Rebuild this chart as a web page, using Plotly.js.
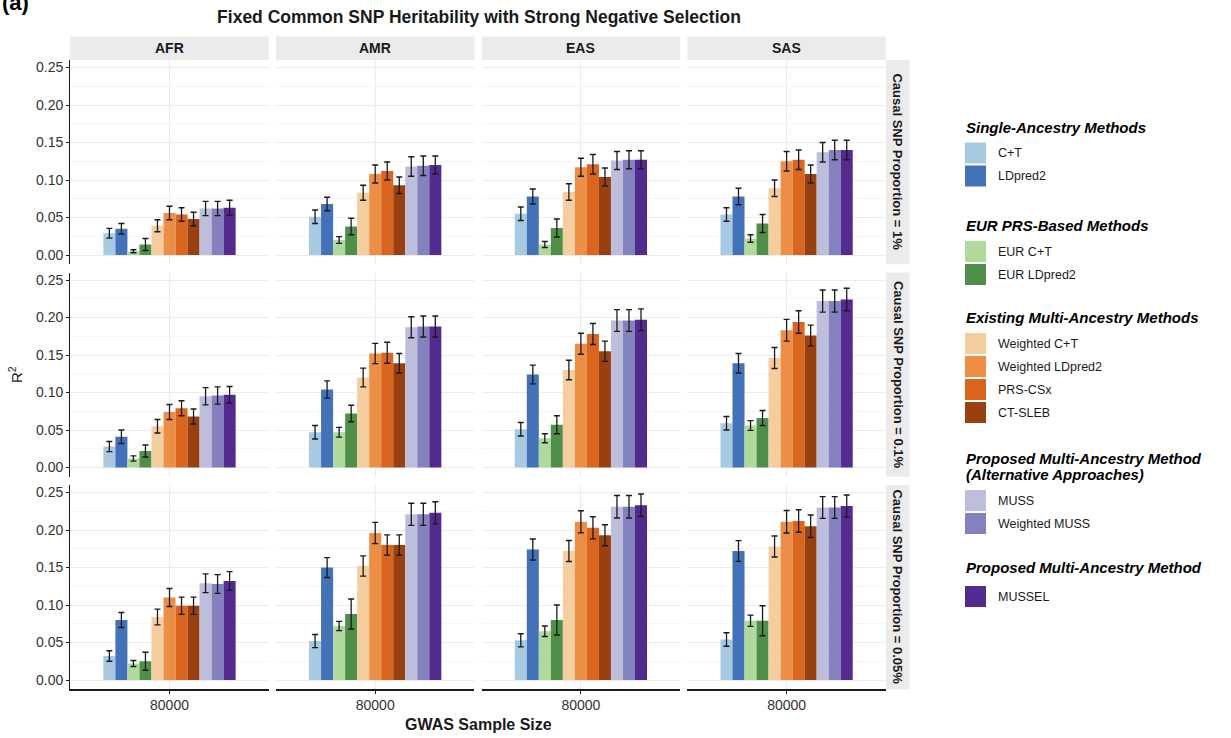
<!DOCTYPE html>
<html>
<head>
<meta charset="utf-8">
<script src="https://cdn.plot.ly/plotly-3.0.1.min.js"></script>
<style>html,body{margin:0;padding:0;background:#fff;}#chart{width:1231px;height:738px;}</style>
</head>
<body>
<div id="chart"></div>
<script>
// ---------------- DATA ----------------
const categories = ["80000"];
const ancestries = ["AFR", "AMR", "EAS", "SAS"];
const proportions = ["Causal SNP Proportion = 1%", "Causal SNP Proportion = 0.1%", "Causal SNP Proportion = 0.05%"];
const methods = ["C+T", "LDpred2", "EUR C+T", "EUR LDpred2", "Weighted C+T", "Weighted LDpred2",
                 "PRS-CSx", "CT-SLEB", "MUSS", "Weighted MUSS", "MUSSEL"];
const methodColors = ["#a8c9e2", "#4372b8", "#b0da9c", "#4f8f49", "#f5cea0", "#ec8e45",
                      "#d9651f", "#98400f", "#bdbddc", "#8381be", "#532a8e"];

// Causal SNP proportion = 1%
const r2_p1_AFR = [0.029, 0.035, 0.005, 0.014, 0.039, 0.056, 0.054, 0.048, 0.062, 0.062, 0.063];
const se_p1_AFR = [0.0065, 0.007, 0.002, 0.008, 0.008, 0.009, 0.009, 0.009, 0.0095, 0.0095, 0.0100];
const r2_p1_AMR = [0.051, 0.068, 0.020, 0.038, 0.083, 0.108, 0.112, 0.093, 0.118, 0.119, 0.120];
const se_p1_AMR = [0.009, 0.009, 0.0045, 0.011, 0.010, 0.012, 0.012, 0.011, 0.013, 0.013, 0.012];
const r2_p1_EAS = [0.055, 0.078, 0.014, 0.036, 0.084, 0.117, 0.121, 0.104, 0.126, 0.127, 0.127];
const se_p1_EAS = [0.009, 0.010, 0.004, 0.012, 0.011, 0.012, 0.013, 0.012, 0.012, 0.012, 0.012];
const r2_p1_SAS = [0.054, 0.078, 0.022, 0.042, 0.089, 0.125, 0.127, 0.108, 0.137, 0.140, 0.140];
const se_p1_SAS = [0.009, 0.011, 0.005, 0.012, 0.011, 0.013, 0.013, 0.012, 0.013, 0.013, 0.013];

// Causal SNP proportion = 0.1%
const r2_p01_AFR = [0.028, 0.041, 0.012, 0.022, 0.055, 0.074, 0.079, 0.068, 0.095, 0.096, 0.097];
const se_p01_AFR = [0.0067, 0.009, 0.0035, 0.008, 0.009, 0.010, 0.010, 0.010, 0.0115, 0.0115, 0.011];
const r2_p01_AMR = [0.047, 0.104, 0.047, 0.072, 0.120, 0.152, 0.153, 0.139, 0.187, 0.188, 0.188];
const se_p01_AMR = [0.009, 0.0115, 0.0065, 0.011, 0.0125, 0.0135, 0.014, 0.013, 0.014, 0.014, 0.014];
const r2_p01_EAS = [0.051, 0.124, 0.039, 0.057, 0.130, 0.165, 0.178, 0.155, 0.196, 0.196, 0.197];
const se_p01_EAS = [0.009, 0.0125, 0.006, 0.012, 0.013, 0.014, 0.014, 0.0135, 0.0145, 0.0145, 0.0145];
const r2_p01_SAS = [0.059, 0.139, 0.056, 0.066, 0.146, 0.183, 0.194, 0.176, 0.222, 0.222, 0.224];
const se_p01_SAS = [0.009, 0.013, 0.0065, 0.010, 0.014, 0.0145, 0.015, 0.0138, 0.0147, 0.0147, 0.015];

// Causal SNP proportion = 0.05%
const r2_p005_AFR = [0.032, 0.080, 0.022, 0.025, 0.084, 0.110, 0.099, 0.099, 0.129, 0.128, 0.132];
const se_p005_AFR = [0.007, 0.010, 0.004, 0.012, 0.0105, 0.012, 0.0115, 0.0115, 0.0125, 0.0125, 0.0125];
const r2_p005_AMR = [0.052, 0.150, 0.072, 0.088, 0.152, 0.196, 0.180, 0.180, 0.221, 0.221, 0.223];
const se_p005_AMR = [0.0087, 0.0133, 0.0062, 0.020, 0.0136, 0.0142, 0.0136, 0.0136, 0.0147, 0.0147, 0.0147];
const r2_p005_EAS = [0.053, 0.174, 0.065, 0.080, 0.172, 0.211, 0.203, 0.193, 0.231, 0.231, 0.233];
const se_p005_EAS = [0.0087, 0.014, 0.007, 0.020, 0.014, 0.0147, 0.0147, 0.014, 0.015, 0.015, 0.015];
const r2_p005_SAS = [0.054, 0.172, 0.079, 0.079, 0.178, 0.211, 0.212, 0.205, 0.230, 0.230, 0.232];
const se_p005_SAS = [0.009, 0.0138, 0.0075, 0.020, 0.014, 0.015, 0.015, 0.015, 0.0145, 0.0145, 0.0147];

const legendGroupTitles = ["Single-Ancestry Methods", "EUR PRS-Based Methods", "Existing Multi-Ancestry Methods",
                           "Proposed Multi-Ancestry Method<br>(Alternative Approaches)", "Proposed Multi-Ancestry Method"];
const legendGroupMembers = [[0, 1], [2, 3], [4, 5, 6, 7], [8, 9], [10]];

// ---------------- LAYOUT GEOMETRY (px) ----------------
const W = 1231, H = 738;
const FONT = "Liberation Sans, Arial, Helvetica, sans-serif";
const colX0 = [70.3, 276.0, 481.7, 687.4], colW = 198.4;
const rowY0 = [60.1, 272.6, 485.1], rowH = 204.2;
const px = v => v / W;
const py = v => 1 - v / H;

const panelData = [
  [[r2_p1_AFR, se_p1_AFR], [r2_p1_AMR, se_p1_AMR], [r2_p1_EAS, se_p1_EAS], [r2_p1_SAS, se_p1_SAS]],
  [[r2_p01_AFR, se_p01_AFR], [r2_p01_AMR, se_p01_AMR], [r2_p01_EAS, se_p01_EAS], [r2_p01_SAS, se_p01_SAS]],
  [[r2_p005_AFR, se_p005_AFR], [r2_p005_AMR, se_p005_AMR], [r2_p005_EAS, se_p005_EAS], [r2_p005_SAS, se_p005_SAS]]
];

const traces = [];
const layout = {
  width: W, height: H, autosize: false,
  margin: {l: 0, r: 0, t: 0, b: 0, pad: 0},
  paper_bgcolor: "#ffffff", plot_bgcolor: "#ffffff",
  barmode: "group", bargap: 0.2, bargroupgap: 0,
  showlegend: false,
  font: {family: FONT, color: "#1a1a1a"},
  title: {text: "<b>Fixed Common SNP Heritability with Strong Negative Selection</b>",
          x: px(479), y: py(17), xanchor: "center", yanchor: "middle",
          font: {family: FONT, size: 17.5, color: "#1a1a1a"}},
  shapes: [], annotations: []
};

for (let r = 0; r < 3; r++) {
  for (let c = 0; c < 4; c++) {
    const idx = r * 4 + c + 1;
    const sfx = idx === 1 ? "" : String(idx);
    const [vals, errs] = panelData[r][c];
    for (let m = 0; m < methods.length; m++) {
      traces.push({
        type: "bar", name: methods[m], x: categories, y: [vals[m]],
        xaxis: "x" + sfx, yaxis: "y" + sfx,
        marker: {color: methodColors[m], line: {width: 0}},
        error_y: {type: "data", array: [errs[m]], visible: true, color: "#1a1a1a", thickness: 1.3, width: 3},
        showlegend: false, hoverinfo: "name+y"
      });
    }
    const isBottom = r === 2, isLeft = c === 0;
    layout["xaxis" + sfx] = {
      domain: [px(colX0[c]), px(colX0[c] + colW)], anchor: "y" + sfx,
      type: "category", range: [-0.6, 0.6], fixedrange: true,
      showgrid: true, gridcolor: "#ebebeb", gridwidth: 1, zeroline: false,
      showline: isBottom, linecolor: "#1a1a1a", linewidth: 1.2,
      ticks: isBottom ? "outside" : "", ticklen: 3, tickcolor: "#1a1a1a",
      showticklabels: isBottom, tickfont: {family: FONT, size: 14, color: "#333333"}
    };
    layout["yaxis" + sfx] = {
      domain: [py(rowY0[r] + rowH), py(rowY0[r])], anchor: "x" + sfx,
      range: [-0.0124, 0.2599], fixedrange: true,
      tick0: 0, dtick: 0.05, tickformat: ".2f",
      showgrid: true, gridcolor: "#ebebeb", gridwidth: 1, zeroline: false,
      minor: {dtick: 0.025, tick0: 0, showgrid: true, gridcolor: "#f4f4f4", gridwidth: 0.8},
      showline: isLeft, linecolor: "#1a1a1a", linewidth: 1.2,
      ticks: isLeft ? "outside" : "", ticklen: 3, tickcolor: "#1a1a1a",
      showticklabels: isLeft, tickfont: {family: FONT, size: 14, color: "#333333"}
    };
  }
}

// Top strips
for (let c = 0; c < 4; c++) {
  layout.shapes.push({type: "rect", xref: "paper", yref: "paper", layer: "below",
    x0: px(colX0[c]), x1: px(colX0[c] + colW), y0: py(60.1), y1: py(36.5),
    fillcolor: "#ebebeb", line: {width: 0}});
  layout.annotations.push({xref: "paper", yref: "paper", x: px(colX0[c] + colW / 2), y: py(48.3),
    xanchor: "center", yanchor: "middle", showarrow: false, text: "<b>" + ancestries[c] + "</b>",
    font: {family: FONT, size: 14, color: "#1a1a1a"}});
}
// Right strips
const stripX0 = colX0[3] + colW + 0.2, stripX1 = stripX0 + 23.6;
for (let r = 0; r < 3; r++) {
  layout.shapes.push({type: "rect", xref: "paper", yref: "paper", layer: "below",
    x0: px(stripX0), x1: px(stripX1), y0: py(rowY0[r] + rowH), y1: py(rowY0[r]),
    fillcolor: "#ebebeb", line: {width: 0}});
  layout.annotations.push({xref: "paper", yref: "paper", x: px((stripX0 + stripX1) / 2), y: py(rowY0[r] + rowH / 2),
    xanchor: "center", yanchor: "middle", showarrow: false, textangle: 90,
    text: "<b>" + proportions[r] + "</b>", font: {family: FONT, size: 13, color: "#1a1a1a"}});
}

// Axis titles and panel label
layout.annotations.push({xref: "paper", yref: "paper", x: px(478), y: py(724), xanchor: "center", yanchor: "middle",
  showarrow: false, text: "<b>GWAS Sample Size</b>", font: {family: FONT, size: 16, color: "#1a1a1a"}});
layout.annotations.push({xref: "paper", yref: "paper", x: px(15), y: py(375), xanchor: "center", yanchor: "middle",
  showarrow: false, textangle: -90, text: "R<sup>2</sup>", font: {family: FONT, size: 15, color: "#1a1a1a"}});
layout.annotations.push({xref: "paper", yref: "paper", x: px(0), y: py(2), xanchor: "left", yanchor: "middle",
  showarrow: false, text: "<b>(a)</b>", font: {family: FONT, size: 22, color: "#000000"}});

// Legend (drawn manually)
const legTitleY = [[127], [225], [317], [458, 474], [567]];
const legFirstTop = [142.5, 241, 333, 490, 586];
const legX = 965, swW = 21, swH = 21, swPitch = 23;
for (let g = 0; g < legendGroupTitles.length; g++) {
  const lines = legendGroupTitles[g].split("<br>");
  lines.forEach((ln, i) => {
    layout.annotations.push({xref: "paper", yref: "paper", x: px(legX - 1), y: py(legTitleY[g][i]),
      xanchor: "left", yanchor: "middle", showarrow: false, text: "<b><i>" + ln + "</i></b>",
      font: {family: FONT, size: 15, color: "#000000"}});
  });
  legendGroupMembers[g].forEach((m, j) => {
    const top = legFirstTop[g] + j * swPitch;
    layout.shapes.push({type: "rect", xref: "paper", yref: "paper",
      x0: px(legX), x1: px(legX + swW), y0: py(top + swH), y1: py(top),
      fillcolor: methodColors[m], line: {width: 0}});
    layout.annotations.push({xref: "paper", yref: "paper", x: px(legX + 31), y: py(top + swH / 2),
      xanchor: "left", yanchor: "middle", showarrow: false, text: methods[m],
      font: {family: FONT, size: 12.5, color: "#1a1a1a"}});
  });
}

Plotly.newPlot("chart", traces, layout, {displayModeBar: false, staticPlot: true});
</script>
</body>
</html>
